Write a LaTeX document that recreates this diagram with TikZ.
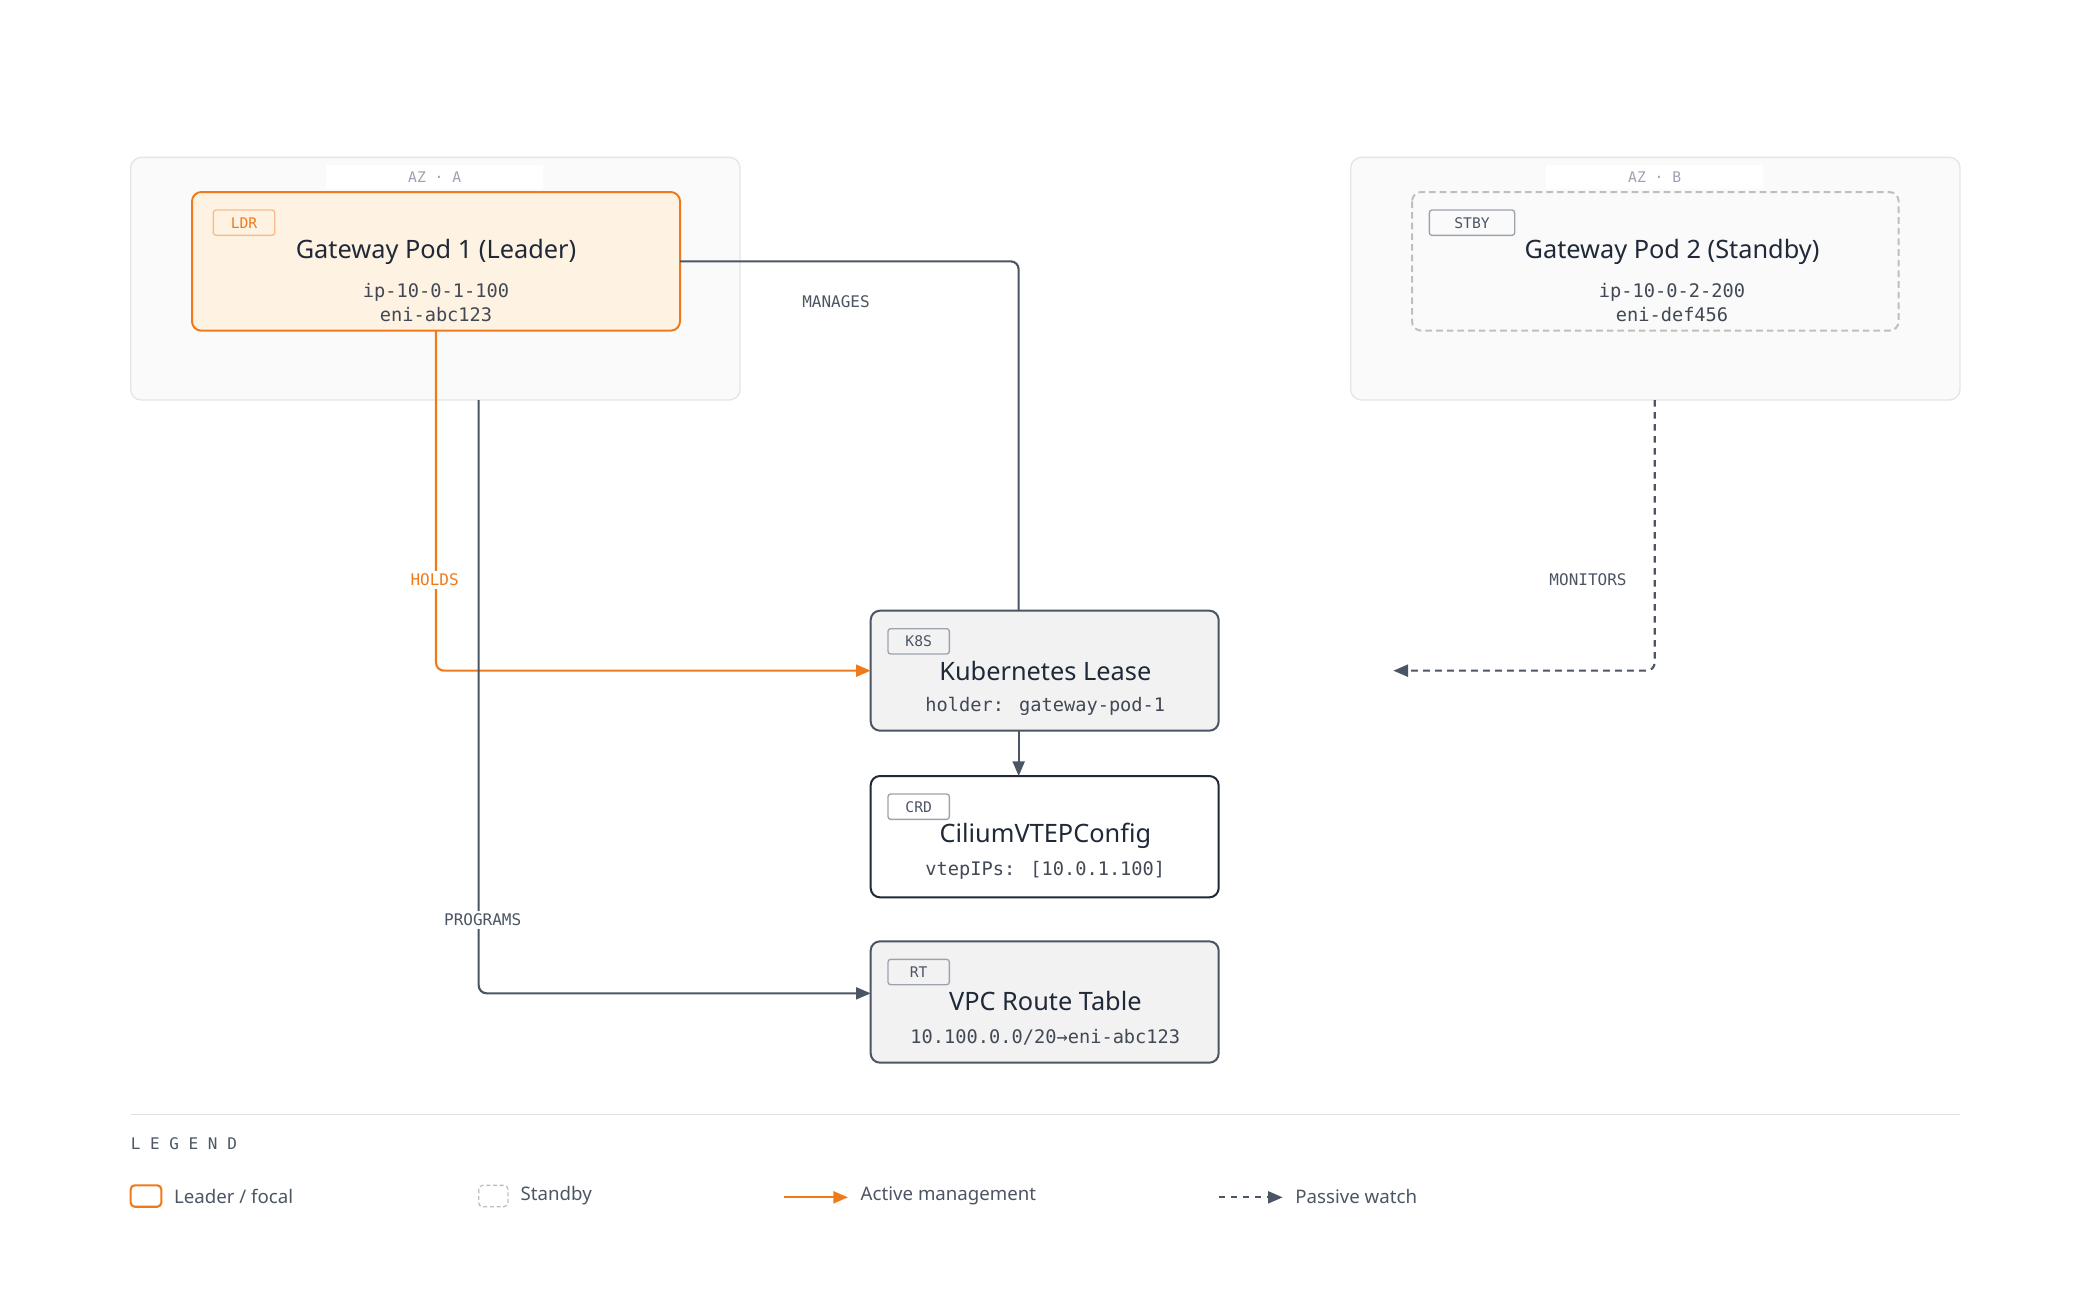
\documentclass[tikz,border=0pt]{standalone}
\usepackage{fontspec}
\setmainfont{Noto Sans}
\newfontfamily\monofont{DejaVu Sans Mono}
\usetikzlibrary{arrows.meta,positioning}
\definecolor{ldr}{HTML}{F07A1A}
\definecolor{ldrfill}{HTML}{FEF3E2}
\definecolor{ink}{HTML}{1F2937}
\definecolor{edge}{HTML}{4B5563}
\definecolor{soft}{HTML}{9CA3AF}
\tikzset{
  zone/.style={draw=black!10, fill=black!2, rounded corners=8pt, line width=1pt},
  card/.style={rounded corners=7pt, line width=1.5pt},
  tag/.style={draw=soft, rounded corners=2pt, line width=1pt, minimum width=46pt, minimum height=19pt, inner sep=0pt, font=\monofont\fontsize{11}{12}\selectfont, text=edge},
  title/.style={font=\fontsize{19}{22}\selectfont\bfseries, text=ink},
  sub/.style={font=\monofont\fontsize{14}{18}\selectfont, text=ink!85, align=center},
  elabel/.style={fill=white, inner sep=2pt, font=\monofont\fontsize{12}{14}\selectfont, text=edge},
  flow/.style={line width=1.6pt, draw=edge, rounded corners=6pt},
  tip/.style={-{Triangle[length=11pt,width=9pt]}},
  legtext/.style={anchor=west, font=\fontsize{14}{16}\selectfont, text=edge}
}
\begin{document}
\begin{tikzpicture}[x=1pt,y=-1pt]
    \useasboundingbox (0,0) rectangle (1560,977);

    % Zones
    \draw[zone] (98,118) rectangle (555,300);
    \draw[zone] (1013,118) rectangle (1470,300);
    \node[fill=white, minimum width=163pt, minimum height=18pt, font=\monofont\fontsize{11}{12}\selectfont, text=soft] (azA) at (326,133) {AZ · A};
    \node[fill=white, minimum width=163pt, minimum height=18pt, font=\monofont\fontsize{11}{12}\selectfont, text=soft] (azB) at (1241,133) {AZ · B};

    % Pods
    \draw[card, draw=ldr, fill=ldrfill] (144,144) rectangle (510,248);
    \coordinate (pod1) at (327,196);
    \node[tag, draw=ldr!50, text=ldr] (ldrTag) at (183,167) {LDR};
    \node[title] (pod1Title) at (327,189) {Gateway Pod 1 (Leader)};
    \node[sub] (pod1Sub) at (327,227) {ip-10-0-1-100\\eni-abc123};

    \draw[card, draw=black!25, dash pattern=on 5pt off 3pt, fill=black!2] (1059,144) rectangle (1424,248);
    \node[tag, minimum width=64pt] (stbyTag) at (1104,167) {STBY};
    \node[title] (pod2Title) at (1254,189) {Gateway Pod 2 (Standby)};
    \node[sub] (pod2Sub) at (1254,227) {ip-10-0-2-200\\eni-def456};

    % Resources
    \draw[card, draw=edge, fill=black!5] (653,458) rectangle (914,548);
    \node[tag] (k8sTag) at (689,481) {K8S};
    \node[title] (lease) at (784,503) {Kubernetes Lease};
    \node[sub] (leaseSub) at (784,530) {holder: gateway-pod-1};

    \draw[card, draw=ink, fill=white] (653,582) rectangle (914,673);
    \node[tag] (crdTag) at (689,605) {CRD};
    \node[title] (crd) at (784,627) {CiliumVTEPConfig};
    \node[sub] (crdSub) at (784,653) {vtepIPs: [10.0.1.100]};

    \draw[card, draw=edge, fill=black!5] (653,706) rectangle (914,797);
    \node[tag] (rtTag) at (689,729) {RT};
    \node[title] (rt) at (784,751) {VPC Route Table};
    \node[sub] (rtSub) at (784,778) {10.100.0.0/20→eni-abc123};

    % Connector ends
    \coordinate (pod1S) at (327,248);
    \coordinate (pod1E) at (510,196);
    \coordinate (azAS) at (359,300);
    \coordinate (azBS) at (1241,300);
    \coordinate (leaseN) at (764,458);
    \coordinate (leaseS) at (764,548);
    \coordinate (leaseW) at (653,503);
    \coordinate (crdN) at (764,582);
    \coordinate (rtW) at (653,745);
    \coordinate (watchEnd) at (1045,503);

    % Connectors
    \draw[flow, draw=ldr, tip] (pod1S) |- (leaseW);
    \node[elabel, text=ldr] (holds) at (326,435) {HOLDS};
    \draw[flow, tip] (azAS) |- (rtW);
    \node[elabel] (programs) at (362,690) {PROGRAMS};
    \draw[flow] (pod1E) -| (leaseN);
    \node[elabel] (manages) at (627,226) {MANAGES};
    \draw[flow, tip] (leaseS) -- (crdN);
    \draw[flow, dash pattern=on 5pt off 4pt, tip] (azBS) |- (watchEnd);
    \node[elabel] (monitors) at (1191,435) {MONITORS};

    % Legend
    \draw[black!12, line width=1pt] (98,836) -- (1470,836);
    \node[anchor=west, inner sep=0pt, font=\monofont\fontsize{12}{14}\selectfont, text=edge] (legend) at (98,858) {L E G E N D};
    \draw[draw=ldr, line width=1.6pt, rounded corners=3pt] (98,889) rectangle (121,905);
    \node[legtext] (lgLdr) at (127,897) {Leader / focal};
    \draw[draw=black!25, dash pattern=on 3pt off 2pt, line width=1pt, rounded corners=3pt] (359,889) rectangle (381,905);
    \node[legtext] (lgStby) at (387,897) {Standby};
    \coordinate (a1) at (588,898);
    \coordinate (a2) at (636,898);
    \draw[flow, draw=ldr, tip] (a1) -- (a2);
    \node[legtext] (lgAct) at (642,897) {Active management};
    \coordinate (b1) at (914,898);
    \coordinate (b2) at (962,898);
    \draw[flow, dash pattern=on 5pt off 4pt, tip] (b1) -- (b2);
    \node[legtext] (lgPas) at (968,897) {Passive watch};
\end{tikzpicture}
\end{document}
